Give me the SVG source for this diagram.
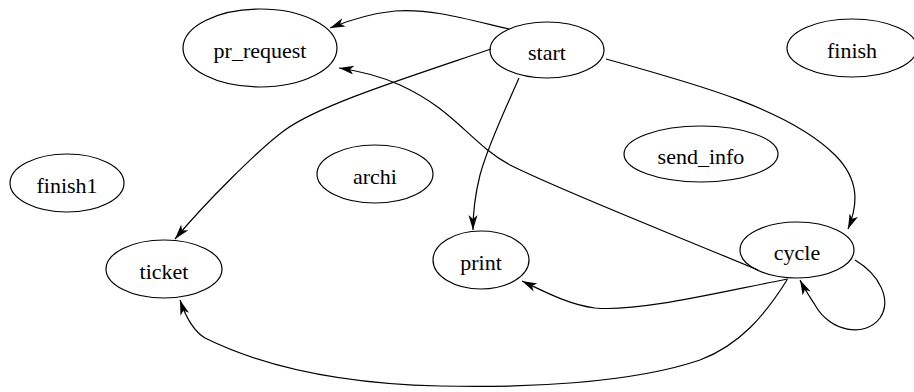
<svg xmlns="http://www.w3.org/2000/svg" width="914" height="392" viewBox="0 0 914 392">
<style>
  .node ellipse { fill: none; stroke: #000; stroke-width: 1.2; }
  .node text { font-family: 'Liberation Serif', 'DejaVu Serif', serif; font-size: 22px; text-anchor: middle; fill: #000; }
  .edge { fill: none; stroke: #000; stroke-width: 1.2; marker-end: url(#arrow); }
</style>
<defs>
  <marker id="arrow" markerUnits="userSpaceOnUse" markerWidth="16" markerHeight="10" refX="15" refY="4.5" orient="auto">
    <path d="M0,0 L15,4.5 L0,9 L4,4.5 z" fill="#000"/>
  </marker>
</defs>
<rect width="914" height="392" fill="#fff"/>
<g id="connectors">
  <path class="edge" d="M509,29 C470,20 430,8 395,11 C375,13 352,19 330,28"/>
  <path class="edge" d="M491,49 C400,80 320,105 285,130 C260,148 205,203 175,239"/>
  <path class="edge" d="M519,78 C505,110 488,145 480,175 C475,195 473,210 473,230"/>
  <path class="edge" d="M606,59 C700,85 790,110 835,155 C860,180 858,205 848,229"/>
  <path class="edge" d="M758,270 C650,225 560,190 510,165 C470,143 455,110 400,85 C380,76 360,71 339,68"/>
  <path class="edge" d="M788,279 C720,292 640,312 595,308 C570,305 545,292 522,281"/>
  <path class="edge" d="M787,280 C765,315 740,345 700,360 C630,384 520,388 440,386 C350,384 270,370 205,338 C192,330 185,315 180,300"/>
  <path class="edge" d="M855,260 C880,275 892,300 880,318 C865,338 830,332 815,305 C810,297 805,290 800,280"/>
</g>
<g id="pr_request" class="node"><ellipse cx="260" cy="48" rx="77" ry="39"/><text x="260" y="58" font-family="Liberation Serif, serif">pr_request</text></g>
<g id="start" class="node"><ellipse cx="547" cy="50" rx="57" ry="28"/><text x="547" y="60" font-family="Liberation Serif, serif">start</text></g>
<g id="finish" class="node"><ellipse cx="852" cy="48" rx="65" ry="29"/><text x="852" y="58" font-family="Liberation Serif, serif">finish</text></g>
<g id="send_info" class="node"><ellipse cx="701" cy="154" rx="77" ry="28"/><text x="701" y="164" font-family="Liberation Serif, serif">send_info</text></g>
<g id="finish1" class="node"><ellipse cx="67" cy="183" rx="57" ry="29"/><text x="67" y="193" font-family="Liberation Serif, serif">finish1</text></g>
<g id="archi" class="node"><ellipse cx="375" cy="174" rx="58" ry="29"/><text x="375" y="184" font-family="Liberation Serif, serif">archi</text></g>
<g id="ticket" class="node"><ellipse cx="164" cy="269" rx="58" ry="29"/><text x="164" y="279" font-family="Liberation Serif, serif">ticket</text></g>
<g id="print" class="node"><ellipse cx="481" cy="260" rx="48" ry="29"/><text x="481" y="270" font-family="Liberation Serif, serif">print</text></g>
<g id="cycle" class="node"><ellipse cx="797" cy="250" rx="57" ry="28"/><text x="797" y="260" font-family="Liberation Serif, serif">cycle</text></g>
</svg>
